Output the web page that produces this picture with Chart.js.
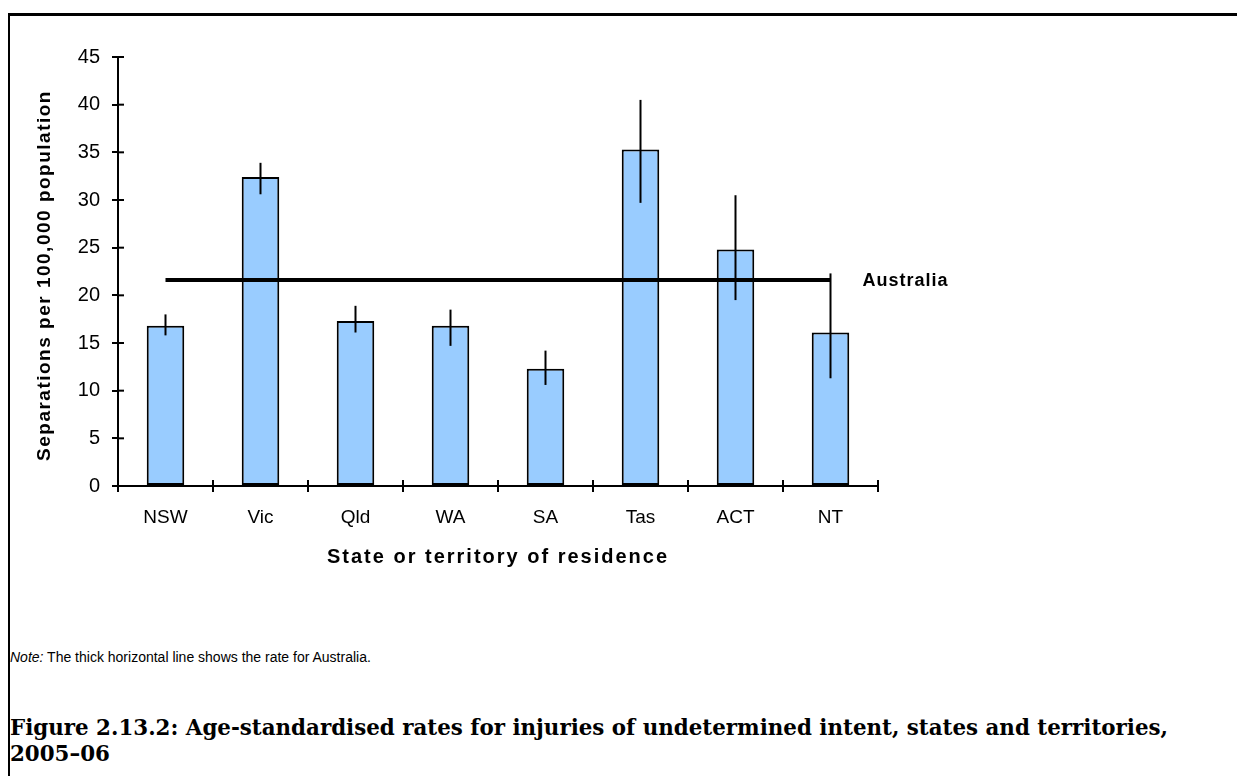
<!DOCTYPE html>
<html><head><meta charset="utf-8">
<script src="https://cdn.jsdelivr.net/npm/chart.js@4.4.1/dist/chart.umd.min.js"></script>
<style>
html,body{margin:0;padding:0;background:#fff;width:1237px;height:776px;overflow:hidden;position:relative;}
#frame{position:absolute;left:8px;top:13px;width:1260px;height:800px;border-top:3px solid #000;border-left:2px solid #000;box-sizing:border-box;}
#wrap{position:absolute;left:0;top:0;width:1237px;height:600px;}
#note{position:absolute;left:10px;top:649px;font:14px "Liberation Sans",Arial,sans-serif;color:#000;white-space:nowrap;}
#title{position:absolute;left:10px;top:715px;font-weight:bold;font-family:"DejaVu Serif",serif;font-size:19px;line-height:26px;color:#000;white-space:nowrap;}
</style></head><body>
<div id="frame"></div>
<div id="wrap"><canvas id="c" width="1237" height="600"></canvas></div>
<div id="note"><i>Note:</i> The thick horizontal line shows the rate for Australia.</div>
<div id="title"><span id="t1">Figure 2.13.2: Age-standardised rates for injuries of undetermined intent, states and territories,</span><br>2005–06</div>
<script>
const categories = ['NSW','Vic','Qld','WA','SA','Tas','ACT','NT'];
const rates  = [16.8, 32.4, 17.3, 16.8, 12.3, 35.3, 24.8, 16.1];
const ciLow  = [15.8, 30.6, 16.1, 14.7, 10.6, 29.7, 19.5, 11.3];
const ciHigh = [18.0, 33.9, 18.9, 18.5, 14.2, 40.5, 30.5, 22.3];
const australiaRate = 21.6;
const yMin = 0, yMax = 45, yStep = 5;
const yAxisTitle = 'Separations per 100,000 population';
const xAxisTitle = 'State or territory of residence';
const lineLabel = 'Australia';

const SANS = '"Liberation Sans", Arial, sans-serif';

// fit title width to reference
(function(){
  const cv=document.createElement('canvas').getContext('2d');
  cv.font='bold 20px "DejaVu Serif"';
  const w=cv.measureText(document.getElementById('t1').textContent).width;
  const size=20*1158/w;
  document.getElementById('title').style.fontSize=size.toFixed(2)+'px';
})();

const overlay = {
  id:'overlay',
  afterDatasetsDraw(chart){
    const ctx=chart.ctx, y=chart.scales.y;
    const meta=chart.getDatasetMeta(1);
    ctx.save();
    ctx.strokeStyle='#000'; ctx.lineWidth=2;
    meta.data.forEach((bar,i)=>{
      const px=bar.x;
      ctx.beginPath();
      ctx.moveTo(px, y.getPixelForValue(ciHigh[i]));
      ctx.lineTo(px, y.getPixelForValue(ciLow[i]));
      ctx.stroke();
    });
    ctx.restore();
  },
  afterDraw(chart){
    const ctx=chart.ctx, x=chart.scales.x, y=chart.scales.y;
    ctx.save();
    ctx.strokeStyle='#000'; ctx.lineWidth=2;
    for(let v=yMin; v<=yMax; v+=yStep){
      const py=y.getPixelForValue(v);
      ctx.beginPath(); ctx.moveTo(x.left, py); ctx.lineTo(x.left+6, py); ctx.stroke();
    }
    for(let i=0;i<=categories.length;i++){
      const px=x.getPixelForValue(i-0.5);
      ctx.beginPath(); ctx.moveTo(px, y.bottom); ctx.lineTo(px, y.bottom-6); ctx.stroke();
    }
    ctx.fillStyle='#000';
    ctx.font='bold 20px '+SANS;
    ctx.letterSpacing='2px';
    ctx.textAlign='center'; ctx.textBaseline='middle';
    ctx.fillText(xAxisTitle, (x.left+x.right)/2, y.bottom+71);
    ctx.font='bold 19px '+SANS;
    ctx.letterSpacing='1.5px';
    ctx.save();
    ctx.translate(45, (y.top+y.bottom)/2+4);
    ctx.rotate(-Math.PI/2);
    ctx.fillText(yAxisTitle, 0, 0);
    ctx.restore();
    const lm=chart.getDatasetMeta(0);
    const last=lm.data[lm.data.length-1];
    ctx.font='bold 18px '+SANS;
    ctx.letterSpacing='1px';
    ctx.textAlign='left';
    ctx.fillText(lineLabel, last.x+32, y.getPixelForValue(australiaRate)+1);
    ctx.restore();
  }
};

new Chart(document.getElementById('c'), {
  data:{
    labels: categories,
    datasets:[
      {type:'line', label:'Australia', data: categories.map(()=>australiaRate),
       borderColor:'#000', borderWidth:4, pointRadius:0, fill:false, order:0},
      {type:'bar', label:'Rate', data: rates, backgroundColor:'#99CCFF',
       borderColor:'#000', borderWidth:2, borderSkipped:false,
       categoryPercentage:1, barPercentage:0.395, order:1}
    ]
  },
  options:{
    responsive:false, animation:false,
    layout:{padding:{left:0, top:57, right:359, bottom:0}},
    plugins:{legend:{display:false}, tooltip:{enabled:false}, title:{display:false}},
    scales:{
      x:{type:'category', offset:true,
         grid:{display:true, offset:true, drawOnChartArea:false, drawTicks:true, tickLength:6, color:'#000', lineWidth:2},
         border:{display:true, color:'#000', width:2},
         ticks:{color:'#000', font:{family:SANS, size:19}, padding:14, maxRotation:0, autoSkip:false},
         afterFit(s){ s.height=114; }},
      y:{type:'linear', min:yMin, max:yMax,
         grid:{display:true, drawOnChartArea:false, drawTicks:true, tickLength:6, color:'#000', lineWidth:2},
         border:{display:true, color:'#000', width:2},
         ticks:{color:'#000', stepSize:yStep, font:{family:SANS, size:20}, padding:12},
         afterFit(s){ s.width=118; }}
    }
  },
  plugins:[overlay]
});
</script>
</body></html>
